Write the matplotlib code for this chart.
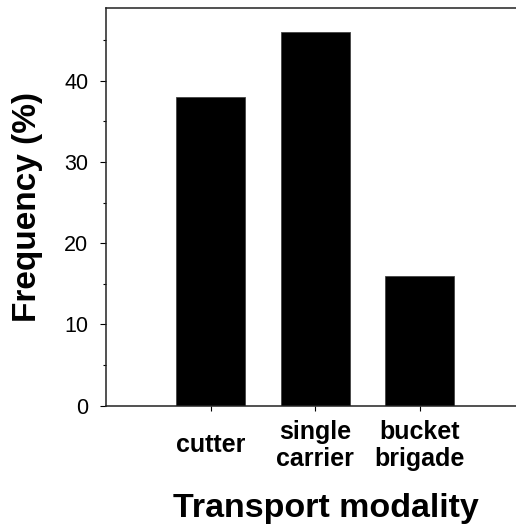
import matplotlib
matplotlib.use("Agg")
import matplotlib.pyplot as plt
from matplotlib.ticker import MultipleLocator

categories = ["cutter", "single\ncarrier", "bucket\nbrigade"]
frequency = [38, 46, 16]
yticks = [0, 10, 20, 30, 40]

plt.rcParams['font.family'] = ['Liberation Sans', 'DejaVu Sans']

W, H = 516, 526
fig = plt.figure(figsize=(W / 100, H / 100), dpi=100)
ax = fig.add_axes([106 / W, 1 - 405.7 / H, 1 - 106 / W, (405.7 - 7.5) / H])

pos = list(range(1, len(categories) + 1))
ax.bar(pos, frequency, width=0.66, color='black', edgecolor='#444444', linewidth=0.6)

ax.set_xlim(0, 3.92)
ax.set_ylim(0, 49)
ax.set_yticks(yticks)
ax.yaxis.set_minor_locator(MultipleLocator(5))
ax.set_xticks(pos)
ax.set_xticklabels(categories, fontsize=18, fontweight='bold', va='center', linespacing=1.12)
for lbl in ax.get_yticklabels():
    lbl.set_fontsize(15.5)

ax.tick_params(axis='y', which='major', direction='out', length=4.3, width=0.8, pad=8.5)
ax.tick_params(axis='y', which='minor', direction='out', length=2.5, width=0.8)
ax.tick_params(axis='x', which='major', direction='out', length=3.6, width=0.8, pad=25)
ax.tick_params(axis='x', which='minor', bottom=False)

for s in ['left', 'bottom', 'top']:
    ax.spines[s].set_linewidth(1.1)
    ax.spines[s].set_color('#222222')
ax.spines['right'].set_visible(False)

fig.text(27.5 / W, 1 - 206.5 / H, "Frequency (%)", rotation=90, fontsize=24,
         fontweight='bold', ha='center', va='center')
fig.text(326 / W, 1 - 516.7 / H, "Transport modality", fontsize=24.5,
         fontweight='bold', ha='center', va='baseline')

fig.savefig("out.png", dpi=100)
